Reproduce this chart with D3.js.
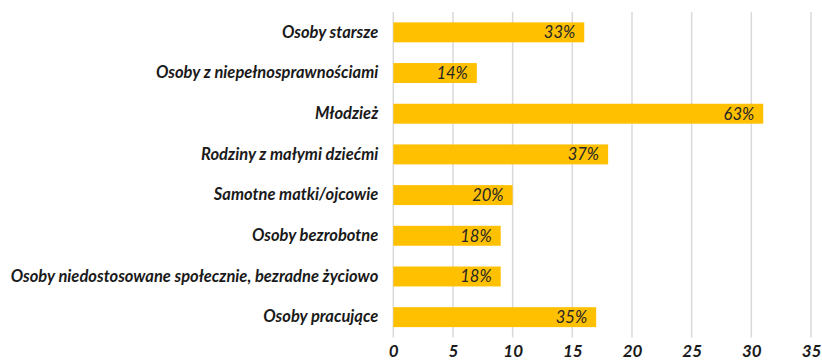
<!DOCTYPE html>
<html>
<head>
<meta charset="utf-8">
<script src="https://cdn.jsdelivr.net/npm/d3@7"></script>
<style>
  html, body { margin: 0; padding: 0; background: #fff; }
  svg { display: block; }
</style>
</head>
<body>
<svg id="chart" width="822" height="360"></svg>
<script>
// Respondent groups, top to bottom
const categories = [
  "Osoby starsze",
  "Osoby z niepełnosprawnościami",
  "Młodzież",
  "Rodziny z małymi dziećmi",
  "Samotne matki/ojcowie",
  "Osoby bezrobotne",
  "Osoby niedostosowane społecznie, bezradne życiowo",
  "Osoby pracujące"
];
// Number of answers per group
const counts = [16, 7, 31, 18, 10, 9, 9, 17];
// Share of answers shown on each bar
const shares = ["33%", "14%", "63%", "37%", "20%", "18%", "18%", "35%"];
const xTicks = [0, 5, 10, 15, 20, 25, 30, 35];

const svg = d3.select("#chart");
const margin = { left: 393.3, right: 11, top: 12, bottom: 22.5 };
const W = 822, H = 360;

const x = d3.scaleLinear().domain([0, 35]).range([margin.left, W - margin.right]);
const y = d3.scaleBand().domain(categories)
  .range([margin.top, H - margin.bottom])
  .paddingInner(0.51).paddingOuter(0.255);

const font = "Lato, 'Open Sans', sans-serif";

// vertical gridlines
svg.append("g").selectAll("line").data(xTicks).join("line")
  .attr("x1", d => x(d)).attr("x2", d => x(d))
  .attr("y1", margin.top).attr("y2", H - margin.bottom)
  .attr("stroke", "#d9d9d9").attr("stroke-width", 1.5);

// bars
svg.append("g").selectAll("rect").data(categories).join("rect")
  .attr("x", x(0))
  .attr("y", d => y(d))
  .attr("width", (d, i) => x(counts[i]) - x(0))
  .attr("height", y.bandwidth())
  .attr("fill", "#FFC000");

// value labels inside bar ends
svg.append("g").selectAll("text").data(categories).join("text")
  .attr("x", (d, i) => x(counts[i]) - 9)
  .attr("y", d => y(d) + y.bandwidth() / 2)
  .attr("dy", "0.36em")
  .attr("text-anchor", "end")
  .attr("font-family", font)
  .attr("font-style", "italic")
  .attr("font-size", 16.5)
  .attr("fill", "#262626")
  .text((d, i) => shares[i]);

// category labels
const yAxis = d3.axisLeft(y).tickSize(0).tickPadding(15);
const gy = svg.append("g").attr("transform", `translate(${x(0)},0)`).call(yAxis);
gy.select(".domain").remove();
gy.selectAll("text")
  .attr("font-family", font)
  .attr("font-style", "italic")
  .attr("font-weight", "bold")
  .attr("font-size", 16.5)
  .attr("fill", "#1a1a1a");

// x axis labels
const xAxis = d3.axisBottom(x).tickValues(xTicks).tickSize(0).tickPadding(7);
const gx = svg.append("g").attr("transform", `translate(0,${H - margin.bottom})`).call(xAxis);
gx.select(".domain").remove();
gx.selectAll("text")
  .attr("font-family", font)
  .attr("font-style", "italic")
  .attr("font-weight", "bold")
  .attr("font-size", 17)
  .attr("fill", "#1a1a1a");
</script>
</body>
</html>
